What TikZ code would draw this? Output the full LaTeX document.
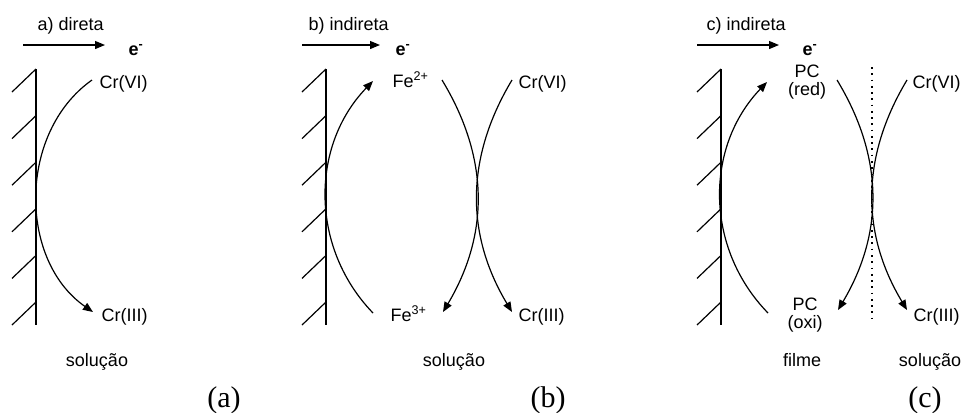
\documentclass[tikz,border=0pt]{standalone}
\usepackage{fontspec}
\setmainfont{Liberation Sans}
\newfontfamily\capfont{Liberation Serif}
\usetikzlibrary{arrows.meta}

\begin{document}
\begin{tikzpicture}[
    x=0.75pt, y=-0.75pt,
    line width=0.9pt,
    >={Triangle[length=7.5pt,width=6pt]},
    txt/.style={inner sep=0pt, font=\fontsize{13.5}{14}\selectfont},
    species/.style={txt, anchor=base west},
    pc/.style={txt, align=center},
    medium/.style={txt, anchor=base},
    hdr/.style={txt, anchor=base west},
    elec/.style={txt, anchor=base west, font=\fontsize{13.5}{14}\selectfont\bfseries},
    panelcap/.style={inner sep=0pt, anchor=base, font=\fontsize{22.5}{26}\capfont},
    sep/.style={dash pattern=on 1.3pt off 3.4pt}
]
    \useasboundingbox (0,0) rectangle (962,412);

    % Electrodes
    \foreach \wx in {36,326,721} {
        \draw (\wx,69) -- (\wx,325);
        \foreach \i in {0,...,5}
            \draw (\wx,{69+46.6*\i}) -- ++(-24,23);
    }

    % a) direta
    \node[hdr] (hdra) at (37,30) {a) direta};
    \coordinate (ela) at (23,45);
    \coordinate (era) at (105,45);
    \draw[->] (ela) -- (era);
    \node[elec] (ea) at (128,55) {e\textsuperscript{-}};
    \node[species] (cr6a) at (99,88) {Cr(VI)};
    \node[species] (cr3a) at (101,321) {Cr(III)};
    \node[medium] (sola) at (97,366) {solução};
    \node[panelcap] (capa) at (224,407) {(a)};
    \draw[->] ([shift={(-7,-8)}]cr6a.base west) to[bend right=55] ([shift={(-8,-9)}]cr3a.base west);

    % b) indireta
    \node[hdr] (hdrb) at (308,30) {b) indireta};
    \coordinate (elb) at (302,45);
    \coordinate (erb) at (380,45);
    \draw[->] (elb) -- (erb);
    \node[elec] (eb) at (395,55) {e\textsuperscript{-}};
    \node[species] (fe2b) at (392,87) {Fe\textsuperscript{2+}};
    \node[species] (fe3b) at (390,321) {Fe\textsuperscript{3+}};
    \node[species] (cr6b) at (518,88) {Cr(VI)};
    \node[species] (cr3b) at (518,321) {Cr(III)};
    \node[medium] (solb) at (454,366) {solução};
    \node[panelcap] (capb) at (548,407) {(b)};
    \draw[->] ([shift={(-17,-8)}]fe3b.base west) to[bend left=44] ([shift={(-19,-6)}]fe2b.base west);
    \draw[->] ([shift={(50,-7)}]fe2b.base west) to[bend left=31] ([shift={(53,-9)}]fe3b.base west);
    \draw[->] ([shift={(-6,-8)}]cr6b.base west) to[bend right=31] ([shift={(-6,-9)}]cr3b.base west);

    % c) indireta
    \node[hdr] (hdrc) at (706,30) {c) indireta};
    \coordinate (elc) at (697,45);
    \coordinate (erc) at (779,45);
    \draw[->] (elc) -- (erc);
    \node[elec] (ec) at (802,55) {e\textsuperscript{-}};
    \node[pc] (pcr) at (807,82) {PC\\(red)};
    \node[pc] (pco) at (805,315) {PC\\(oxi)};
    \node[species] (cr6c) at (912,88) {Cr(VI)};
    \node[species] (cr3c) at (913,321) {Cr(III)};
    \node[medium] (filme) at (802,366) {filme};
    \node[medium] (solc) at (930,366) {solução};
    \node[panelcap] (capc) at (925,407) {(c)};
    \coordinate (sept) at (872,67);
    \coordinate (sepb) at (872,320);
    \draw[sep] (sept) -- (sepb);
    \draw[->] ([shift={(-37,-2)}]pco.center) to[bend left=44] ([shift={(-40,0)}]pcr.center);
    \draw[->] ([shift={(30,-2)}]pcr.center) to[bend left=31] ([shift={(33,-5)}]pco.center);
    \draw[->] ([shift={(-5,-8)}]cr6c.base west) to[bend right=31] ([shift={(-6,-11)}]cr3c.base west);
\end{tikzpicture}
\end{document}
